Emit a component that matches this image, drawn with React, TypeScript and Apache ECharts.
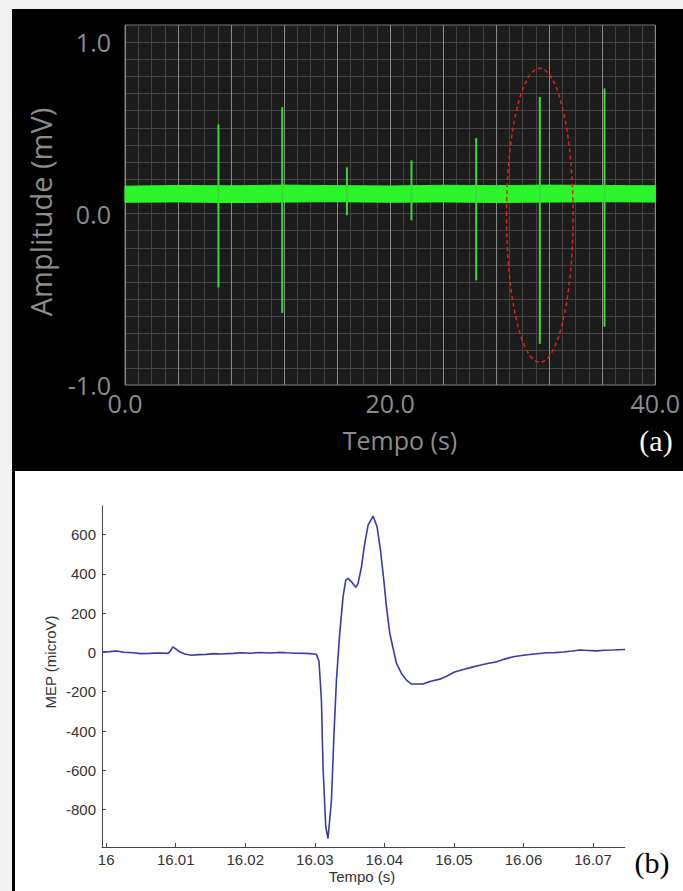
import React, { useEffect, useRef } from "react";
import * as echarts from "echarts";

// ---------- Panel (a): EMG recording, 0-40 s ----------
// noisy baseline band: lower and upper envelope (mV)
const bandTimes = [0, 4, 8, 12, 16, 20, 24, 28, 32, 36, 40];
const bandLow = [0.066, 0.068, 0.064, 0.067, 0.069, 0.066, 0.068, 0.065, 0.067, 0.069, 0.067];
const bandHigh = [0.160, 0.164, 0.162, 0.166, 0.163, 0.161, 0.165, 0.163, 0.166, 0.164, 0.162];

const spikeTimes = [7.05, 11.86, 16.74, 21.61, 26.49, 31.29, 36.17];
const spikeHigh = [0.52, 0.62, 0.27, 0.31, 0.44, 0.68, 0.73];
const spikeLow = [-0.43, -0.58, -0.01, -0.04, -0.39, -0.76, -0.66];

// highlighted response: centre time (s), centre amplitude (mV), half-width (s), half-height (mV)
const highlight = [31.29, -0.01, 2.51, 0.857];

const aXLabels = [0, 20, 40];
const aYLabels = [-1, 0, 1];

// ---------- Panel (b): single MEP ----------
const mepMs = [
  -0.58, 0.5, 1.44, 2.6, 3.83, 5.0, 6.23, 7.5, 8.87, 9.2, 9.59, 10.0, 10.55, 11.3, 12.24, 13.3,
  14.39, 15.5, 16.5, 18.22, 19.5, 20.8, 22.07, 23.5, 24.8, 25.91, 27.3, 28.79, 30.23, 30.6, 30.95,
  31.18, 31.57, 31.9, 32.39, 32.76, 33.11, 33.58, 34.06, 34.45, 34.78, 35.27, 35.89, 36.22, 36.71,
  37.18, 37.66, 38.38, 38.95, 39.44, 39.92, 40.3, 40.78, 41.26, 41.74, 42.46, 43.18, 43.9, 45.57,
  46.54, 47.98, 48.94, 50.1, 51.33, 52.5, 53.73, 55.0, 56.14, 57.3, 58.53, 59.97, 61.6, 63.34,
  64.5, 65.73, 67.0, 68.13, 69.3, 70.53, 71.7, 72.92, 74.61,
];
const mepValues = [
  2, 4, 7, 1, -2, -6, -5, -3, -5, 5, 28, 18, 3, -8, -14, -11,
  -10, -6, -8, -5, -2, -4, 0, -3, 0, -2, -4, -5, -9, -45, -243,
  -582, -887, -947, -752, -412, -141, 97, 283, 368, 377, 359, 331, 351, 436,
  555, 648, 694, 639, 521, 368, 232, 97, 20, -56, -107, -141, -161, -161,
  -148, -136, -121, -100, -87, -76, -65, -55, -48, -34, -22, -14, -8, -2,
  -1, 2, 7, 12, 10, 8, 11, 12, 15,
];
const bXTicks = [16, 16.01, 16.02, 16.03, 16.04, 16.05, 16.06, 16.07];
const bYTicks = [-800, -600, -400, -200, 0, 200, 400, 600];

export default function App() {
  const ref = useRef<HTMLDivElement>(null);

  useEffect(() => {
    const chart = echarts.init(ref.current!, null, { renderer: "svg" });

    const bandSegments = bandTimes.slice(0, -1).map((t, i) => [
      t, bandTimes[i + 1], bandLow[i], bandHigh[i], bandLow[i + 1], bandHigh[i + 1],
    ]);
    const spikeData = spikeTimes.map((t, i) => [t, spikeLow[i], spikeHigh[i]]);
    const mepData = mepMs.map((ms, i) => [16 + ms / 1000, mepValues[i]]);

    const greyA = "#8c8c8c";
    const fontA = "'Open Sans', 'Noto Sans', sans-serif";
    const fontB = "'Liberation Sans', Arial, sans-serif";
    const serif = "'Liberation Serif', 'DejaVu Serif', serif";
    const center = { align: "center", verticalAlign: "middle", textAlign: "center", textVerticalAlign: "middle" };

    const option: any = {
      animation: false,
      backgroundColor: "#f0f0f0",
      graphic: [
        { type: "rect", z: -100, shape: { x: 12, y: 9, width: 671, height: 462 }, style: { fill: "#000" } },
        { type: "rect", z: -100, shape: { x: 12, y: 471, width: 671, height: 420 }, style: { fill: "#fff" } },
        { type: "rect", z: -99, shape: { x: 12, y: 471, width: 3, height: 420 }, style: { fill: "#000" } },
        {
          type: "text", z: 100, x: 40, y: 212, rotation: Math.PI / 2,
          style: { text: "Amplitude (mV)", fill: greyA, fontSize: 29, fontFamily: fontA, ...center },
        },
        {
          type: "text", z: 100, x: 400, y: 440,
          style: { text: "Tempo (s)", fill: greyA, fontSize: 25, fontFamily: fontA, ...center },
        },
        {
          type: "text", z: 100, x: 656, y: 440,
          style: { text: "(a)", fill: "#ffffff", fontSize: 30, fontFamily: serif, ...center },
        },
        {
          type: "text", z: 100, x: 50, y: 662, rotation: Math.PI / 2,
          style: { text: "MEP (microV)", fill: "#333", fontSize: 15, fontFamily: fontB, ...center },
        },
        {
          type: "text", z: 100, x: 362, y: 876,
          style: { text: "Tempo (s)", fill: "#333", fontSize: 15, fontFamily: fontB, ...center },
        },
        {
          type: "text", z: 100, x: 652, y: 862,
          style: { text: "(b)", fill: "#000", fontSize: 30, fontFamily: serif, ...center },
        },
      ],
      grid: [
        { left: 125, top: 25, width: 533, height: 360, show: true, backgroundColor: "#1c1c1c", borderColor: "#7a7a7a", borderWidth: 1, containLabel: false },
        { left: 102, top: 506, width: 523, height: 341, show: false, containLabel: false },
      ],
      xAxis: [
        {
          type: "value", gridIndex: 0, min: 0, max: 40, interval: 4,
          axisLine: { show: false }, axisTick: { show: false },
          minorTick: { show: false, splitNumber: 4 },
          splitLine: { show: true, lineStyle: { color: "#8a8a8a", width: 1 } },
          minorSplitLine: { show: true, lineStyle: { color: "#434343", width: 1 } },
          axisLabel: {
            color: greyA, fontSize: 25, fontFamily: fontA, margin: 5,
            showMinLabel: true, showMaxLabel: true,
            formatter: (v: number) => (aXLabels.some((l) => Math.abs(l - v) < 1e-6) ? v.toFixed(1) : ""),
          },
        },
        {
          type: "value", gridIndex: 1, min: 15.9994, max: 16.0746,
          axisLine: { show: true, onZero: false, lineStyle: { color: "#444", width: 1 } },
          axisTick: { show: true, inside: true, length: 4, customValues: bXTicks, lineStyle: { color: "#444" } },
          splitLine: { show: false },
          axisLabel: {
            customValues: bXTicks, color: "#333", fontSize: 15, fontFamily: fontB, margin: 5,
            formatter: (v: number) => String(Math.round(v * 100) / 100),
          },
        },
      ],
      yAxis: [
        {
          type: "value", gridIndex: 0, min: -1, max: 1.1, interval: 0.1,
          axisLine: { show: false }, axisTick: { show: false },
          splitLine: { show: true, lineStyle: { color: "#454545", width: 1 } },
          axisLabel: {
            color: greyA, fontSize: 25, fontFamily: fontA, margin: 14,
            formatter: (v: number) => {
              const r = Math.round(v);
              return Math.abs(v - r) < 1e-6 && aYLabels.includes(r) ? (r === 0 ? "0.0" : r.toFixed(1)) : "";
            },
          },
        },
        {
          type: "value", gridIndex: 1, min: -990, max: 745,
          axisLine: { show: true, onZero: false, lineStyle: { color: "#444", width: 1 } },
          axisTick: { show: true, inside: true, length: 4, customValues: bYTicks, lineStyle: { color: "#444" } },
          splitLine: { show: false },
          axisLabel: { customValues: bYTicks, color: "#333", fontSize: 15, fontFamily: fontB, margin: 6 },
        },
      ],
      series: [
        {
          type: "custom", xAxisIndex: 0, yAxisIndex: 0, data: bandSegments, silent: true, z: 3,
          encode: { x: [0, 1], y: [2, 3, 4, 5] },
          renderItem: (_p: any, api: any) => {
            const t0 = api.value(0);
            const t1 = api.value(1);
            const pts = [
              api.coord([t0, api.value(2)]),
              api.coord([t1, api.value(4)]),
              api.coord([t1, api.value(5)]),
              api.coord([t0, api.value(3)]),
            ];
            return {
              type: "polygon",
              shape: { points: pts },
              style: { fill: "#2cf52c", stroke: "#2cf52c", lineWidth: 1 },
            };
          },
        },
        {
          type: "custom", xAxisIndex: 0, yAxisIndex: 0, data: spikeData, silent: true, z: 4,
          encode: { x: 0, y: [1, 2] },
          renderItem: (_p: any, api: any) => {
            const t = api.value(0);
            const a = api.coord([t, api.value(1)]);
            const b = api.coord([t, api.value(2)]);
            return {
              type: "line",
              shape: { x1: a[0], y1: a[1], x2: b[0], y2: b[1] },
              style: { stroke: "#3bd83b", lineWidth: 2 },
            };
          },
        },
        {
          type: "custom", xAxisIndex: 0, yAxisIndex: 0, data: [highlight], silent: true, z: 5,
          encode: { x: 0, y: 1 },
          renderItem: (_p: any, api: any) => {
            const c = api.coord([api.value(0), api.value(1)]);
            const s = api.size([api.value(2), api.value(3)]);
            return {
              type: "ellipse",
              shape: { cx: c[0], cy: c[1], rx: s[0], ry: s[1] },
              style: { fill: "none", stroke: "#e0201c", lineWidth: 1.5, lineDash: [4, 3] },
            };
          },
        },
        {
          type: "line", xAxisIndex: 1, yAxisIndex: 1, data: mepData, showSymbol: false, silent: true,
          lineStyle: { color: "#3a3aa8", width: 1.6 },
          z: 3,
        },
      ],
    };

    chart.setOption(option);
    return () => chart.dispose();
  }, []);

  return <div ref={ref} style={{ position: "fixed", left: 0, top: 0, width: 683, height: 891 }} />;
}
